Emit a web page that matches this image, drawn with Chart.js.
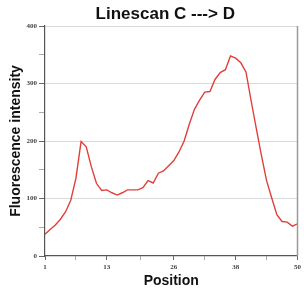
<!DOCTYPE html>
<html>
<head>
<meta charset="utf-8">
<script src="https://cdn.jsdelivr.net/npm/chart.js@4"></script>
<style>
  html, body { margin: 0; padding: 0; background: #fff; }
  #c { display: block; }
</style>
</head>
<body>
<canvas id="c" width="304" height="290"></canvas>
<script>
const chartTitle = 'Linescan C ---> D';
const xTitle = 'Position';
const yTitle = 'Fluorescence intensity';

const positions = [1,2,3,4,5,6,7,8,9,10,11,12,13,14,15,16,17,18,19,20,21,22,23,24,25,26,27,28,29,30,31,32,33,34,35,36,37,38,39,40,41,42,43,44,45,46,47,48,49,50];
const intensity = [38,46,54,64,77,97,135,199,190,155,126,114,115,110,106,110,115,115,115,119,131,127,144,148,157,166,181,200,229,255,271,285,286,307,319,324,348,344,336,320,270,222,175,131,101,72,60,59,52,56];

const xTickValues = [1, 7, 13, 19.5, 26, 32, 38, 44, 50];
const xTickLabels = [1, 13, 26, 38, 50];
const yMin = 0, yMax = 400, yMinorStep = 50, yLabelStep = 100;

const points = positions.map((p, i) => ({ x: p, y: intensity[i] }));

const shiftTitle = {
  id: 'shiftTitle',
  afterLayout(chart) {
    const t = chart.titleBlock;
    if (t) { t.left -= 6; t.right -= 6; }
  }
};

const rightBorder = {
  id: 'rightBorder',
  afterDatasetsDraw(chart) {
    const { ctx, chartArea: a } = chart;
    ctx.save();
    ctx.strokeStyle = '#9a9a9a';
    ctx.lineWidth = 1.5;
    ctx.beginPath();
    ctx.moveTo(a.right, a.top);
    ctx.lineTo(a.right, a.bottom);
    ctx.stroke();
    ctx.restore();
  }
};

new Chart(document.getElementById('c'), {
  type: 'line',
  data: {
    datasets: [{
      data: points,
      borderColor: '#e0403c',
      borderWidth: 1.4,
      pointRadius: 0,
      tension: 0,
      fill: false
    }]
  },
  options: {
    responsive: false,
    animation: false,
    layout: { padding: { left: 0, right: 5, top: 0, bottom: 0 } },
    plugins: {
      legend: { display: false },
      tooltip: { enabled: false },
      title: {
        display: true,
        text: chartTitle,
        fullSize: false,
        color: '#111',
        font: { family: '"Liberation Sans", Arial, sans-serif', size: 17, weight: 'bold' },
        padding: { top: 4, bottom: 1.6 }
      }
    },
    scales: {
      x: {
        type: 'linear',
        min: 1,
        max: 50,
        afterBuildTicks: (s) => { s.ticks = xTickValues.map(v => ({ value: v })); },
        afterFit: (s) => { s.height = 34; },
        border: { color: '#555', width: 1.2 },
        grid: {
          drawOnChartArea: false,
          drawTicks: true,
          tickLength: 4,
          tickColor: (c) => xTickLabels.includes(c.tick.value) ? '#666' : '#aaa'
        },
        ticks: {
          autoSkip: false,
          maxRotation: 0,
          padding: 3,
          color: '#444',
          font: { family: '"Liberation Serif", serif', size: 7, weight: 'bold' },
          callback: (v) => xTickLabels.includes(v) ? String(v) : ''
        },
        title: {
          display: true,
          text: xTitle,
          color: '#111',
          font: { family: '"Liberation Sans", Arial, sans-serif', size: 14, weight: 'bold' },
          padding: { top: 0, bottom: 0 }
        }
      },
      y: {
        min: yMin,
        max: yMax,
        afterFit: (s) => { s.width = 45; },
        border: { color: '#555', width: 1.2 },
        grid: {
          color: (c) => (c.tick.value % yLabelStep === 0 && c.tick.value !== 0) ? '#dadada' : 'rgba(0,0,0,0)',
          lineWidth: 1,
          tickLength: 6,
          tickColor: (c) => c.tick.value % yLabelStep === 0 ? '#666' : '#aaa'
        },
        ticks: {
          stepSize: yMinorStep,
          padding: 2,
          color: '#444',
          font: { family: '"Liberation Serif", serif', size: 7, weight: 'bold' },
          callback: (v) => v % yLabelStep === 0 ? String(v) : ''
        },
        title: {
          display: true,
          text: yTitle,
          color: '#111',
          font: { family: '"Liberation Sans", Arial, sans-serif', size: 14, weight: 'bold' },
          padding: { top: 8, bottom: 0 }
        }
      }
    }
  },
  plugins: [shiftTitle, rightBorder]
});
</script>
</body>
</html>
